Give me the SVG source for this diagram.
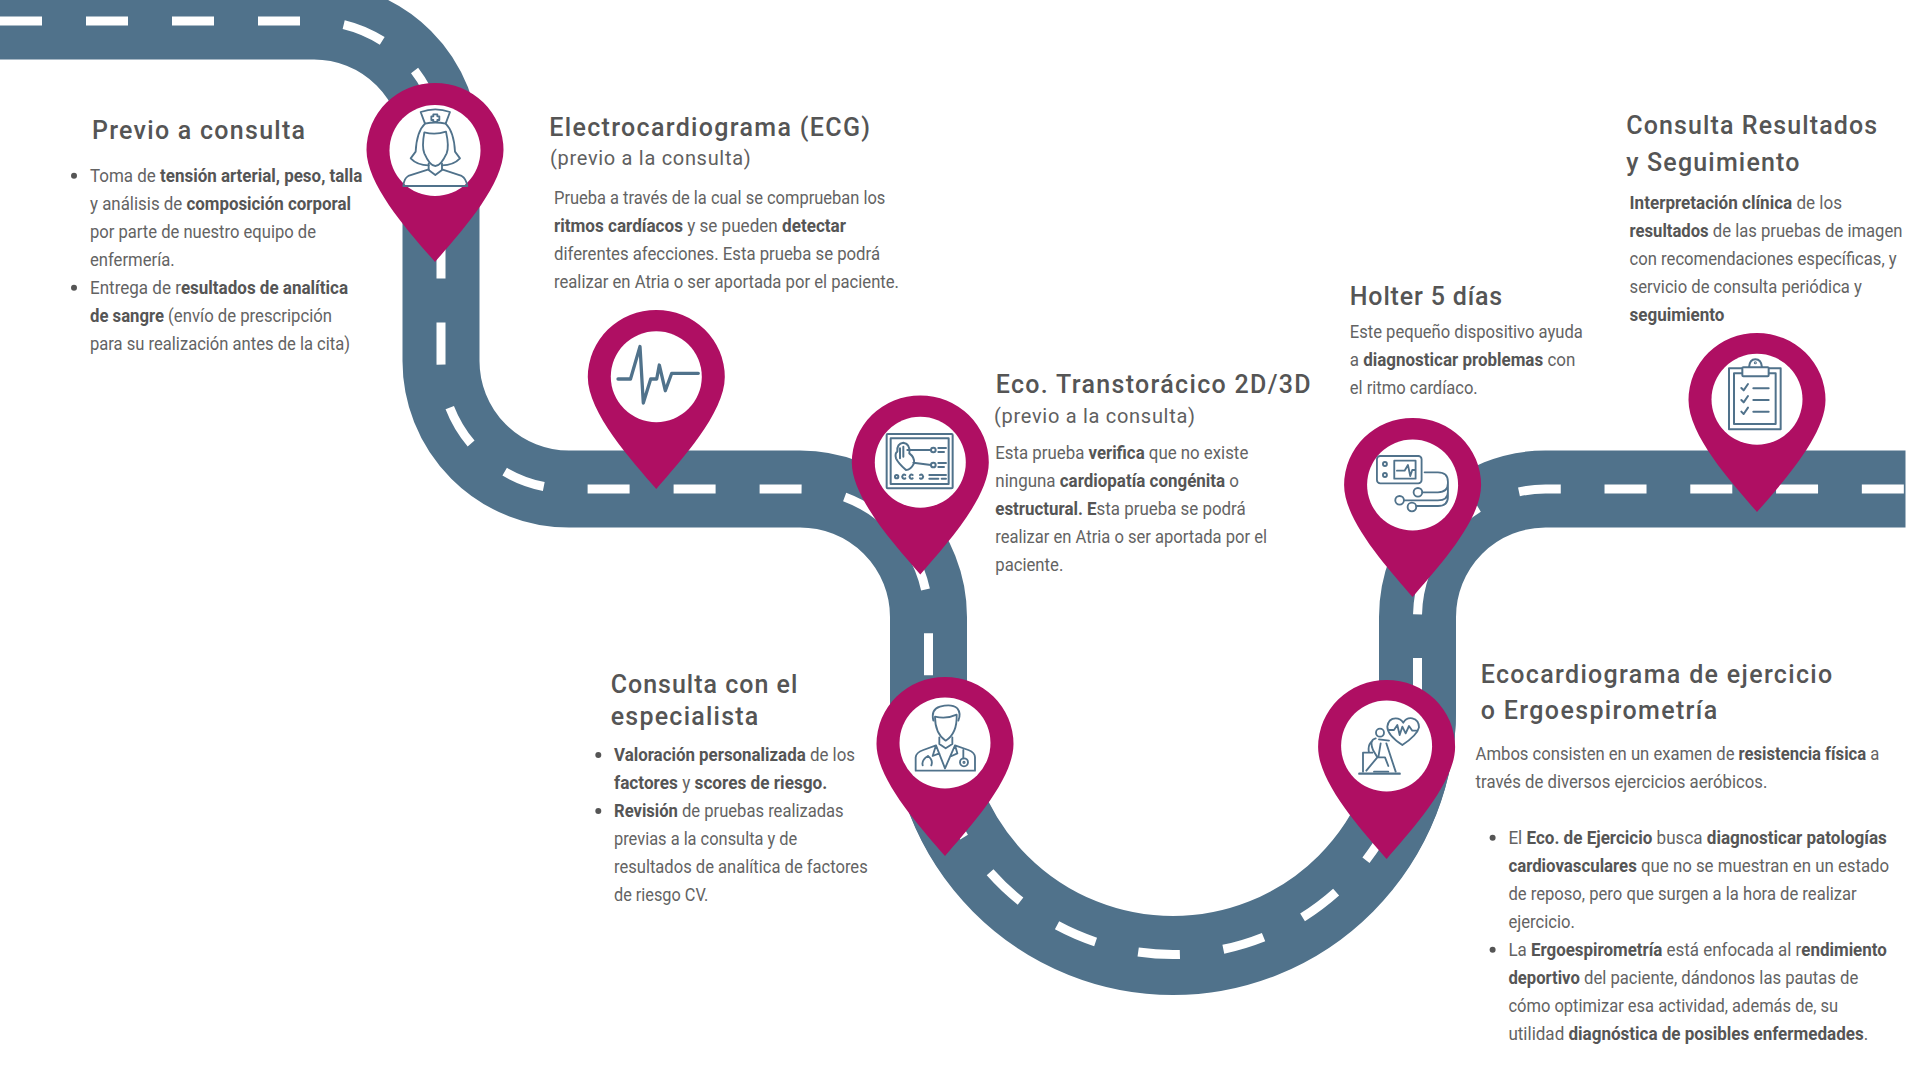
<svg xmlns="http://www.w3.org/2000/svg" width="1920" height="1080" viewBox="0 0 1920 1080">
<style>
text{font-family:"Roboto","Noto Sans","Liberation Sans",sans-serif}
.h{font-size:25px;font-weight:500;fill:#555}
.s{font-size:20px;font-weight:400;fill:#606060}
.b{font-size:18px;font-weight:400;fill:#636363}
.b tspan{font-weight:700;fill:#555}
.dot{fill:#555}
.road{fill:none;stroke:#50728b;stroke-width:77}
.dash{fill:none;stroke:#fff;stroke-width:9;stroke-dasharray:42 44}
.pin{fill:#af0f63}
.disc{fill:#fff}
.ic{fill:none;stroke:#50728b;stroke-width:5.500;stroke-linecap:round;stroke-linejoin:round}
</style>
<defs>
<path id="pin" d="M0 0C-24 -28 -68.500 -76 -68.500 -112A68.500 67 0 0 1 68.500 -112C68.500 -76 24 -28 0 0Z"/>
</defs>
<rect width="1920" height="1080" fill="#fff"/>
<g id="connectors">
<path class="road" d="M0 21H314A127 127 0 0 1 441 148V361A128 128 0 0 0 569 489H800A128.500 128 0 0 1 928.500 617V710A244.500 244.500 0 0 0 1417.500 710V617A128 128 0 0 1 1545.500 489H1905.500"/>
<path class="road" d="M928.500 710A244.500 246.500 0 0 0 1417.500 710"/>
<path class="dash" d="M0 21H314A127 127 0 0 1 441 148V361A128 128 0 0 0 569 489H800A128.500 128 0 0 1 928.500 617V700"/>
<path class="dash" style="stroke-dasharray:42 43.770;stroke-dashoffset:69.970" d="M928.500 700V710A244.500 244.500 0 0 0 1417.500 710V617A128 128 0 0 1 1545.500 489H1905.500"/>
</g>
<g id="node-previo">
<use href="#pin" class="pin" x="435" y="262"/><circle class="disc" cx="435" cy="150.500" r="45.500"/>
<g class="ic" transform="translate(380 90) scale(.3333)">
<path d="M122 66Q166 50 210 66L197 101Q166 94 135 101Z"/>
<path d="M160 73H172V79H178V90H172V96H160V90H154V79H160Z"/>
<path d="M135 101Q110 125 107 185L92 205Q112 226 146 226M197 101Q222 125 225 185L240 205Q220 226 186 226"/>
<path d="M133 127Q166 136 198 125Q208 170 200 190Q182 228 166 228Q150 228 133 190Q125 170 133 127Z"/>
<path d="M146 220V240L166 255L186 240V220"/>
<path d="M146 238L85 258Q72 265 70 288H262Q258 265 245 258L186 238"/>
</g>
<text class="h" x="92" y="138.500" textLength="213" lengthAdjust="spacing">Previo a consulta</text>
<circle class="dot" cx="74" cy="175.700" r="3"/><circle class="dot" cx="74" cy="287.700" r="3"/>
<text class="b" x="90" y="182" textLength="272.400" lengthAdjust="spacingAndGlyphs">Toma de <tspan>tensión arterial, peso, talla</tspan></text>
<text class="b" x="90" y="210" textLength="261" lengthAdjust="spacingAndGlyphs">y análisis de <tspan>composición corporal</tspan></text>
<text class="b" x="90" y="238" textLength="226" lengthAdjust="spacingAndGlyphs">por parte de nuestro equipo de</text>
<text class="b" x="90" y="266" textLength="84.700" lengthAdjust="spacingAndGlyphs">enfermería.</text>
<text class="b" x="90" y="294" textLength="258" lengthAdjust="spacingAndGlyphs">Entrega de r<tspan>esultados de analítica</tspan></text>
<text class="b" x="90" y="322" textLength="242" lengthAdjust="spacingAndGlyphs"><tspan>de sangre</tspan> (envío de prescripción</text>
<text class="b" x="90" y="350" textLength="260" lengthAdjust="spacingAndGlyphs">para su realización antes de la cita)</text>
</g>
<g id="node-ecg">
<use href="#pin" class="pin" x="656.300" y="489"/><circle class="disc" cx="656.300" cy="376.700" r="45.500"/>
<polyline class="ic" style="stroke-width:3.300" points="618,379 630.500,379 640,346.500 643.300,403 650.700,379 656.700,379 659.300,365 665.300,390.700 671.700,373.300 698.300,373.300"/>
<text class="h" x="549.300" y="135.700" textLength="320.700" lengthAdjust="spacing">Electrocardiograma (ECG)</text>
<text class="s" x="550" y="165" textLength="200.700" lengthAdjust="spacing">(previo a la consulta)</text>
<text class="b" x="554" y="204.300" textLength="331.300" lengthAdjust="spacingAndGlyphs">Prueba a través de la cual se comprueban los</text>
<text class="b" x="554" y="232.300" textLength="292" lengthAdjust="spacingAndGlyphs"><tspan>ritmos cardíacos</tspan> y se pueden <tspan>detectar</tspan></text>
<text class="b" x="554" y="260.300" textLength="326" lengthAdjust="spacingAndGlyphs">diferentes afecciones. Esta prueba se podrá</text>
<text class="b" x="554" y="288.300" textLength="345" lengthAdjust="spacingAndGlyphs">realizar en Atria o ser aportada por el paciente.</text>
</g>
<g id="node-eco">
<use href="#pin" class="pin" x="920.300" y="574.500"/><circle class="disc" cx="920.300" cy="462.300" r="45.500"/>
<g class="ic" style="stroke-width:6" transform="translate(870 420) scale(.3333)">
<rect x="50" y="42" width="198" height="163" rx="3"/><rect x="62" y="55" width="174" height="137"/>
<path d="M82 95Q80 70 100 68Q122 72 118 100Q135 112 132 130Q122 150 108 150Q85 130 78 115Q74 100 82 95ZM90 85V115M100 80V110"/>
<path d="M112 90H183M130 128L183 135M205 84H228M205 96H222M205 129H228M205 141H222M178 165H228M178 176H205M215 176H228"/>
<circle cx="190" cy="90" r="7"/><circle cx="190" cy="135" r="7"/>
<circle cx="80" cy="170" r="5"/><path d="M106 165A6 6 0 1 0 106 175M128 165A6 6 0 1 0 128 175M150 165A6 6 0 1 1 150 175"/>
</g>
<text class="h" x="995.700" y="392.700" textLength="315" lengthAdjust="spacing">Eco. Transtorácico 2D/3D</text>
<text class="s" x="994" y="422.700" textLength="201" lengthAdjust="spacing">(previo a la consulta)</text>
<text class="b" x="995.300" y="459" textLength="253" lengthAdjust="spacingAndGlyphs">Esta prueba <tspan>verifica</tspan> que no existe</text>
<text class="b" x="995.300" y="487" textLength="243.700" lengthAdjust="spacingAndGlyphs">ninguna <tspan>cardiopatía congénita</tspan> o</text>
<text class="b" x="995.300" y="515" textLength="250.400" lengthAdjust="spacingAndGlyphs"><tspan>estructural. E</tspan>sta prueba se podrá</text>
<text class="b" x="995.300" y="543" textLength="271.700" lengthAdjust="spacingAndGlyphs">realizar en Atria o ser aportada por el</text>
<text class="b" x="995.300" y="571" textLength="68" lengthAdjust="spacingAndGlyphs">paciente.</text>
</g>
<g id="node-especialista">
<use href="#pin" class="pin" x="945" y="856"/><circle class="disc" cx="945" cy="743" r="45.500"/>
<g class="ic" transform="translate(900 700) scale(.3333)">
<path d="M100 62Q92 28 120 20Q155 10 172 25Q184 40 175 62"/>
<path d="M105 50Q140 58 170 44Q172 100 137 122Q105 100 105 50Z"/>
<path d="M118 112V132L137 145L157 132V112"/>
<path d="M47 212V172Q48 158 70 150L108 136L135 205L165 136L205 150Q225 158 225 172V212ZM108 136L98 168L118 160M165 136L172 160L155 168"/>
<path d="M84 168Q64 180 68 196M84 168Q100 180 94 196"/>
<path d="M190 150V175"/><circle cx="192" cy="187" r="12"/><circle cx="192" cy="187" r="2"/>
</g>
<text class="h" x="610.700" y="692.700" textLength="186.600" lengthAdjust="spacing">Consulta con el</text>
<text class="h" x="610.700" y="725" textLength="147.600" lengthAdjust="spacing">especialista</text>
<circle class="dot" cx="598.300" cy="755" r="3"/><circle class="dot" cx="598.300" cy="811" r="3"/>
<text class="b" x="614" y="761" textLength="241" lengthAdjust="spacingAndGlyphs"><tspan>Valoración personalizada</tspan> de los</text>
<text class="b" x="614" y="789" textLength="213.300" lengthAdjust="spacingAndGlyphs"><tspan>factores</tspan> y <tspan>scores de riesgo.</tspan></text>
<text class="b" x="614" y="817" textLength="229.700" lengthAdjust="spacingAndGlyphs"><tspan>Revisión</tspan> de pruebas realizadas</text>
<text class="b" x="614" y="845" textLength="183.300" lengthAdjust="spacingAndGlyphs">previas a la consulta y de</text>
<text class="b" x="614" y="873" textLength="253.700" lengthAdjust="spacingAndGlyphs">resultados de analítica de factores</text>
<text class="b" x="614" y="901" textLength="94.300" lengthAdjust="spacingAndGlyphs">de riesgo CV.</text>
</g>
<g id="node-ergo">
<use href="#pin" class="pin" x="1386.600" y="859"/><circle class="disc" cx="1386.600" cy="746" r="45.500"/>
<g class="ic" transform="translate(1349 700) scale(.3333)">
<path style="stroke-width:7" d="M31 221H152"/>
<path d="M160 135Q115 105 115 80Q118 55 140 55Q155 55 163 68Q172 52 190 55Q210 60 210 82Q205 105 160 135Z"/>
<path d="M120 90H135L145 75L152 105L160 80L170 100L180 78L190 92H205"/>
<circle cx="93" cy="98" r="12"/>
<path d="M42 215V158H70M70 122Q55 135 60 158M80 115Q60 120 72 150L85 172L52 212M90 118L120 122M95 130L88 172L108 172L118 198M112 130L140 215M75 215H118"/>
</g>
<text class="h" x="1480.700" y="683.300" textLength="351.500" lengthAdjust="spacing">Ecocardiograma de ejercicio</text>
<text class="h" x="1480.700" y="719.300" textLength="236.500" lengthAdjust="spacing">o Ergoespirometría</text>
<text class="b" x="1475.600" y="760.300" textLength="403.700" lengthAdjust="spacingAndGlyphs">Ambos consisten en un examen de <tspan>resistencia física</tspan> a</text>
<text class="b" x="1475.600" y="788.300" textLength="291.800" lengthAdjust="spacingAndGlyphs">través de diversos ejercicios aeróbicos.</text>
<circle class="dot" cx="1492.600" cy="837.700" r="3"/><circle class="dot" cx="1492.600" cy="949.700" r="3"/>
<text class="b" x="1508.400" y="844" textLength="378.400" lengthAdjust="spacingAndGlyphs">El <tspan>Eco. de Ejercicio</tspan> busca <tspan>diagnosticar patologías</tspan></text>
<text class="b" x="1508.400" y="872" textLength="380.800" lengthAdjust="spacingAndGlyphs"><tspan>cardiovasculares</tspan> que no se muestran en un estado</text>
<text class="b" x="1508.400" y="900" textLength="348.300" lengthAdjust="spacingAndGlyphs">de reposo, pero que surgen a la hora de realizar</text>
<text class="b" x="1508.400" y="928" textLength="66.400" lengthAdjust="spacingAndGlyphs">ejercicio.</text>
<text class="b" x="1508.400" y="956" textLength="378.400" lengthAdjust="spacingAndGlyphs">La <tspan>Ergoespirometría</tspan> está enfocada al r<tspan>endimiento</tspan></text>
<text class="b" x="1508.400" y="984" textLength="349.900" lengthAdjust="spacingAndGlyphs"><tspan>deportivo</tspan> del paciente, dándonos las pautas de</text>
<text class="b" x="1508.400" y="1012" textLength="329.800" lengthAdjust="spacingAndGlyphs">cómo optimizar esa actividad, además de, su</text>
<text class="b" x="1508.400" y="1040" textLength="359.800" lengthAdjust="spacingAndGlyphs">utilidad <tspan>diagnóstica de posibles enfermedades</tspan>.</text>
</g>
<g id="node-holter">
<use href="#pin" class="pin" x="1412.600" y="597"/><circle class="disc" cx="1412.600" cy="485" r="45.500"/>
<g class="ic" transform="translate(1369.600 440) scale(.3333)">
<rect x="22" y="48" width="134" height="82" rx="10"/><rect x="74" y="62" width="64" height="54"/>
<circle cx="46" cy="72" r="6"/><circle cx="46" cy="105" r="6"/>
<path d="M82 92H105L115 75L122 108L128 90H136"/>
<path d="M165 97H205Q235 97 235 125V170Q235 198 205 198H140M158 157H205Q235 157 235 130M104 181H205Q235 181 235 155"/>
<circle cx="127" cy="201" r="13"/><circle cx="145" cy="157" r="13"/><circle cx="90" cy="181" r="13"/>
</g>
<text class="h" x="1349.800" y="305" textLength="152.400" lengthAdjust="spacing">Holter 5 días</text>
<text class="b" x="1349.800" y="338.300" textLength="233.100" lengthAdjust="spacingAndGlyphs">Este pequeño dispositivo ayuda</text>
<text class="b" x="1349.800" y="366.300" textLength="225.500" lengthAdjust="spacingAndGlyphs">a <tspan>diagnosticar problemas</tspan> con</text>
<text class="b" x="1349.800" y="394.300" textLength="127.900" lengthAdjust="spacingAndGlyphs">el ritmo cardíaco.</text>
</g>
<g id="node-resultados">
<use href="#pin" class="pin" x="1757" y="512"/><circle class="disc" cx="1757" cy="399.300" r="45.500"/>
<g class="ic" style="stroke-width:6" transform="translate(1718 350) scale(.3333)">
<rect x="33" y="55" width="155" height="183"/><rect x="48" y="70" width="125" height="152"/>
<path d="M93 52Q95 28 112 28Q130 28 132 52"/><rect x="73" y="52" width="79" height="27" rx="3" fill="#fff"/><circle cx="112" cy="38" r="1.500"/>
<path d="M70 114L77 121L90 102M70 150L77 157L90 138M70 185L77 192L90 173"/>
<path d="M106 115H152M106 150H152M106 185H152"/>
</g>
<text class="h" x="1626.200" y="134" textLength="251" lengthAdjust="spacing">Consulta Resultados</text>
<text class="h" x="1626.200" y="171" textLength="173.300" lengthAdjust="spacing">y Seguimiento</text>
<text class="b" x="1629.600" y="209.300" textLength="212.400" lengthAdjust="spacingAndGlyphs"><tspan>Interpretación clínica</tspan> de los</text>
<text class="b" x="1629.600" y="237.300" textLength="272.900" lengthAdjust="spacingAndGlyphs"><tspan>resultados</tspan> de las pruebas de imagen</text>
<text class="b" x="1629.600" y="265.300" textLength="267.100" lengthAdjust="spacingAndGlyphs">con recomendaciones específicas, y</text>
<text class="b" x="1629.600" y="293.300" textLength="232.300" lengthAdjust="spacingAndGlyphs">servicio de consulta periódica y</text>
<text class="b" x="1629.600" y="321.300" textLength="94.900" lengthAdjust="spacingAndGlyphs"><tspan>seguimiento</tspan></text>
</g>
</svg>
